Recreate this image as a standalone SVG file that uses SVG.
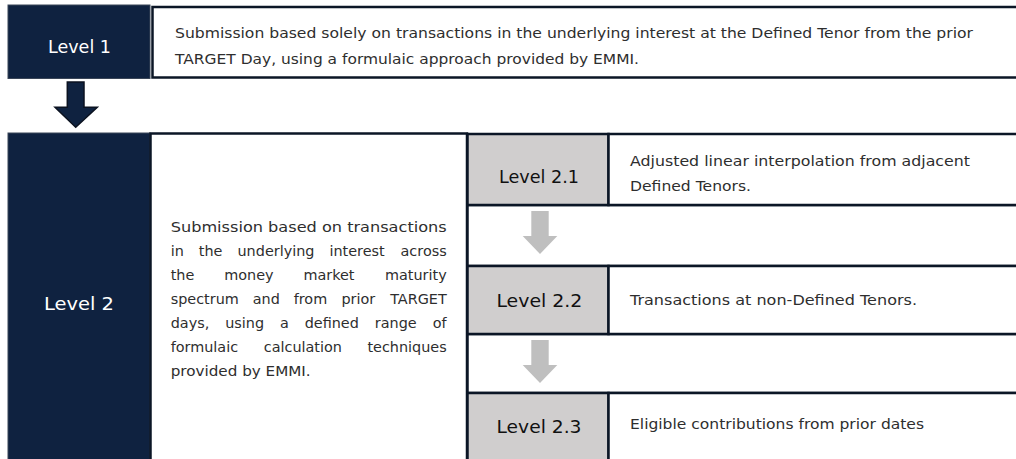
<svg xmlns="http://www.w3.org/2000/svg" width="1016" height="459" viewBox="0 0 1016 459">
  <style>
    .navy { fill: #0f2240; stroke: #3a4658; stroke-width: 1; }
    .cell { fill: #ffffff; stroke: #0b1626; stroke-width: 2.5; }
    .grey { fill: #d0cece; stroke: #0b1626; stroke-width: 2.5; }
    .lbl { font-family: "DejaVu Sans", "Open Sans", sans-serif; font-size: 18.5px; text-anchor: middle; }
    .lbl-w { fill: #ffffff; }
    .lbl-k { fill: #111111; }
    .txt { font-family: "DejaVu Sans", "Open Sans", sans-serif; font-size: 14.4px; fill: #2e2e2e; }
    .end { text-anchor: end; }
    .arrow-dark { fill: #0f2240; stroke: #0b1220; stroke-width: 1.5; stroke-linejoin: miter; }
    .arrow-grey { fill: #bfbfbf; }
  </style>

  <!-- Level 1 -->
  <g id="level1">
    <rect class="navy" x="8" y="5" width="142" height="73.5"/>
    <rect class="cell" x="152.5" y="7" width="880" height="70.5"/>
    <text class="lbl lbl-w" x="79.5" y="53" textLength="63" lengthAdjust="spacingAndGlyphs">Level 1</text>
    <text class="txt" x="175" y="38" textLength="798" lengthAdjust="spacingAndGlyphs">Submission based solely on transactions in the underlying interest at the Defined Tenor from the prior</text>
    <text class="txt" x="175" y="64" textLength="464" lengthAdjust="spacingAndGlyphs">TARGET Day, using a formulaic approach provided by EMMI.</text>
  </g>

  <!-- Level 2 (justified paragraph: words placed per line, last word flush right) -->
  <g id="level2">
    <rect class="navy" x="8" y="133" width="142" height="340"/>
    <rect class="cell" x="150.5" y="133.5" width="316.5" height="340"/>
    <text class="lbl lbl-w" x="79" y="310" textLength="70" lengthAdjust="spacingAndGlyphs">Level 2</text>
    <text class="txt" x="170.7" y="232" textLength="276" lengthAdjust="spacingAndGlyphs">Submission based on transactions</text>
    <text class="txt" y="256">
      <tspan x="170.7">in</tspan><tspan x="198.8">the</tspan><tspan x="237.5">underlying</tspan><tspan x="329.5">interest</tspan>
    </text>
    <text class="txt end" x="446.7" y="256">across</text>
    <text class="txt" y="280">
      <tspan x="170.7">the</tspan><tspan x="224.2">money</tspan><tspan x="303.4">market</tspan>
    </text>
    <text class="txt end" x="446.7" y="280">maturity</text>
    <text class="txt" y="304">
      <tspan x="170.7">spectrum</tspan><tspan x="252.7">and</tspan><tspan x="293.7">from</tspan><tspan x="341.4">prior</tspan>
    </text>
    <text class="txt end" x="446.7" y="304">TARGET</text>
    <text class="txt" y="328">
      <tspan x="170.7">days,</tspan><tspan x="225.2">using</tspan><tspan x="280">a</tspan><tspan x="304.7">defined</tspan><tspan x="374.8">range</tspan>
    </text>
    <text class="txt end" x="446.7" y="328">of</text>
    <text class="txt" y="352">
      <tspan x="170.7">formulaic</tspan><tspan x="263.8">calculation</tspan>
    </text>
    <text class="txt end" x="446.7" y="352">techniques</text>
    <text class="txt" x="170.7" y="376" textLength="140" lengthAdjust="spacingAndGlyphs">provided by EMMI.</text>
  </g>

  <!-- spacer rows of the sub-level column -->
  <g id="level2-gaps">
    <rect class="cell" x="467.5" y="205" width="560" height="61"/>
    <rect class="cell" x="467.5" y="334" width="560" height="59"/>
  </g>

  <!-- Level 2.1 -->
  <g id="level2-1">
    <rect class="grey" x="467.5" y="134" width="141" height="71"/>
    <rect class="cell" x="608.5" y="134" width="420" height="71"/>
    <text class="lbl lbl-k" x="539" y="183" textLength="80" lengthAdjust="spacingAndGlyphs">Level 2.1</text>
    <text class="txt" x="630" y="166" textLength="340" lengthAdjust="spacingAndGlyphs">Adjusted linear interpolation from adjacent</text>
    <text class="txt" x="630" y="191" textLength="121" lengthAdjust="spacingAndGlyphs">Defined Tenors.</text>
  </g>

  <!-- Level 2.2 -->
  <g id="level2-2">
    <rect class="grey" x="467.5" y="266" width="141" height="68"/>
    <rect class="cell" x="608.5" y="266" width="420" height="68"/>
    <text class="lbl lbl-k" x="539.4" y="307" textLength="86" lengthAdjust="spacingAndGlyphs">Level 2.2</text>
    <text class="txt" x="630" y="305" textLength="287" lengthAdjust="spacingAndGlyphs">Transactions at non-Defined Tenors.</text>
  </g>

  <!-- Level 2.3 -->
  <g id="level2-3">
    <rect class="grey" x="467.5" y="393" width="141" height="80"/>
    <rect class="cell" x="608.5" y="393" width="420" height="80"/>
    <text class="lbl lbl-k" x="539" y="433" textLength="85" lengthAdjust="spacingAndGlyphs">Level 2.3</text>
    <text class="txt" x="630" y="429" textLength="294" lengthAdjust="spacingAndGlyphs">Eligible contributions from prior dates</text>
  </g>

  <!-- connectors -->
  <g id="connectors">
    <path class="arrow-dark" d="M67.3 82 H84 V107.3 H97.3 L75.7 127.3 L55 107.3 H67.3 Z"/>
    <path class="arrow-grey" d="M531.3 211 H548.7 V236 H557.3 L540 254 L522.7 236 H531.3 Z"/>
    <path class="arrow-grey" d="M531.3 340 H548.7 V365 H557.3 L540 383 L522.7 365 H531.3 Z"/>
  </g>
</svg>
